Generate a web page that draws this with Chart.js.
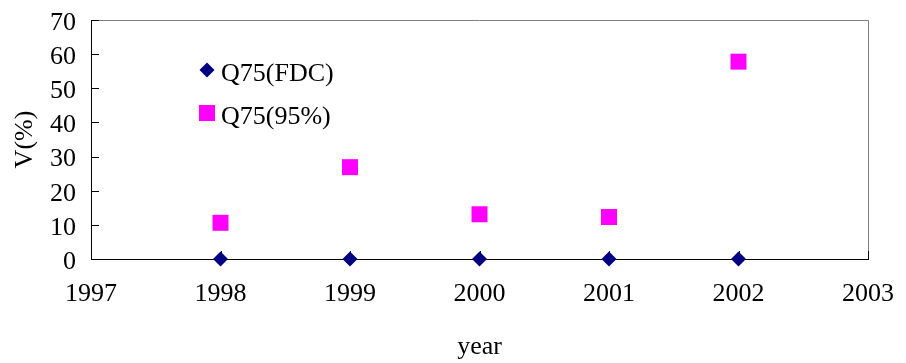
<!DOCTYPE html>
<html>
<head>
<meta charset="utf-8">
<script src="https://cdn.jsdelivr.net/npm/chart.js@4/dist/chart.umd.min.js"></script>
<style>
  html, body { margin: 0; padding: 0; background: #ffffff; }
  #wrap { width: 906px; height: 363px; }
</style>
</head>
<body>
<div id="wrap"><canvas id="c" width="906" height="363"></canvas></div>
<script>
// Data
const years = [1998, 1999, 2000, 2001, 2002];
const q75Fdc = [0, 0, 0, 0, 0];
const q75Pct95 = [10.6, 26.9, 13.1, 12.3, 57.8];
const seriesNames = ['Q75(FDC)', 'Q75(95%)'];
const xTickLabels = ['1997', '1998', '1999', '2000', '2001', '2002', '2003'];
const xRange = [1997, 2003];
const yRange = [0, 70];
const yStep = 10;
const xTitle = 'year';
const yTitle = 'V(%)';

const FONT = "'Liberation Serif', 'Times New Roman', serif";
const FONT_SIZE = 26;

const toPoints = (xs, ys) => xs.map((x, i) => ({ x: x, y: ys[i] }));

// Plot frame (grey top/right edges) and inward tick marks
const framePlugin = {
  id: 'frame',
  beforeDatasetsDraw(chart) {
    const { ctx, chartArea: a, scales } = chart;
    ctx.save();
    ctx.lineWidth = 1;
    ctx.strokeStyle = '#808080';
    ctx.beginPath();
    ctx.moveTo(a.left, a.top + 0.5);
    ctx.lineTo(a.right + 0.5, a.top + 0.5);
    ctx.lineTo(a.right + 0.5, a.bottom);
    ctx.stroke();

    ctx.strokeStyle = '#000000';
    ctx.beginPath();
    scales.y.ticks.forEach(t => {
      const py = Math.round(scales.y.getPixelForValue(t.value)) + 0.5;
      ctx.moveTo(a.left, py);
      ctx.lineTo(a.left + 8, py);
    });
    scales.x.ticks.forEach(t => {
      const px = Math.round(scales.x.getPixelForValue(t.value)) + 0.5;
      ctx.moveTo(px, a.bottom);
      ctx.lineTo(px, a.bottom - 8);
    });
    ctx.stroke();
    ctx.restore();
  }
};

// Legend drawn inside the plot area
const legendPlugin = {
  id: 'innerLegend',
  afterDraw(chart) {
    const { ctx } = chart;
    const rows = [
      { x: 207, y: 70, textY: 81 },
      { x: 207, y: 113, textY: 124 }
    ];
    ctx.save();
    chart.data.datasets.forEach((ds, i) => {
      const r = rows[i];
      ctx.fillStyle = ds.pointBackgroundColor;
      Chart.helpers.drawPoint(ctx, {
        pointStyle: ds.pointStyle,
        radius: ds.pointRadius,
        rotation: 0,
        borderWidth: 0
      }, r.x, r.y);
      ctx.fillStyle = '#000000';
      ctx.font = FONT_SIZE + 'px ' + FONT;
      ctx.textAlign = 'left';
      ctx.textBaseline = 'alphabetic';
      ctx.fillText(ds.label, 221, r.textY);
    });
    ctx.restore();
  }
};

new Chart(document.getElementById('c'), {
  type: 'scatter',
  data: {
    datasets: [
      {
        label: seriesNames[0],
        data: toPoints(years, q75Fdc),
        pointStyle: 'rectRot',
        pointRadius: 7.5,
        pointBorderWidth: 0,
        pointBackgroundColor: '#000080',
        pointBorderColor: '#000080',
        clip: false
      },
      {
        label: seriesNames[1],
        data: toPoints(years, q75Pct95),
        pointStyle: 'rect',
        pointRadius: 11.3,
        pointBorderWidth: 0,
        pointBackgroundColor: '#ff00ff',
        pointBorderColor: '#ff00ff',
        clip: false
      }
    ]
  },
  options: {
    responsive: false,
    animation: false,
    events: [],
    layout: { padding: { top: 20, right: 38, bottom: 0, left: 0 } },
    plugins: {
      legend: { display: false },
      tooltip: { enabled: false }
    },
    scales: {
      x: {
        type: 'linear',
        min: xRange[0],
        max: xRange[1],
        afterFit(scale) {
          scale.height = 104;
          scale.paddingLeft = 0;
          scale.paddingRight = 0;
        },
        ticks: {
          stepSize: 1,
          padding: 20,
          maxRotation: 0,
          autoSkip: false,
          color: '#000000',
          font: { family: FONT, size: FONT_SIZE },
          callback: (v, i) => xTickLabels[i]
        },
        grid: { display: true, drawOnChartArea: false, drawTicks: false },
        border: { display: true, color: '#000000', width: 1 },
        title: {
          display: true,
          text: xTitle,
          color: '#000000',
          font: { family: FONT, size: FONT_SIZE },
          padding: { top: 0, bottom: 0 }
        }
      },
      y: {
        type: 'linear',
        min: yRange[0],
        max: yRange[1],
        afterFit(scale) {
          scale.width = 91;
          scale.paddingTop = 0;
          scale.paddingBottom = 0;
        },
        ticks: {
          stepSize: yStep,
          padding: 15,
          labelOffset: 3,
          autoSkip: false,
          color: '#000000',
          font: { family: FONT, size: FONT_SIZE }
        },
        grid: { display: true, drawOnChartArea: false, drawTicks: false },
        border: { display: true, color: '#000000', width: 1 },
        title: {
          display: true,
          text: yTitle,
          color: '#000000',
          font: { family: FONT, size: FONT_SIZE },
          padding: { top: 10, bottom: 0 }
        }
      }
    }
  },
  plugins: [framePlugin, legendPlugin]
});
</script>
</body>
</html>
